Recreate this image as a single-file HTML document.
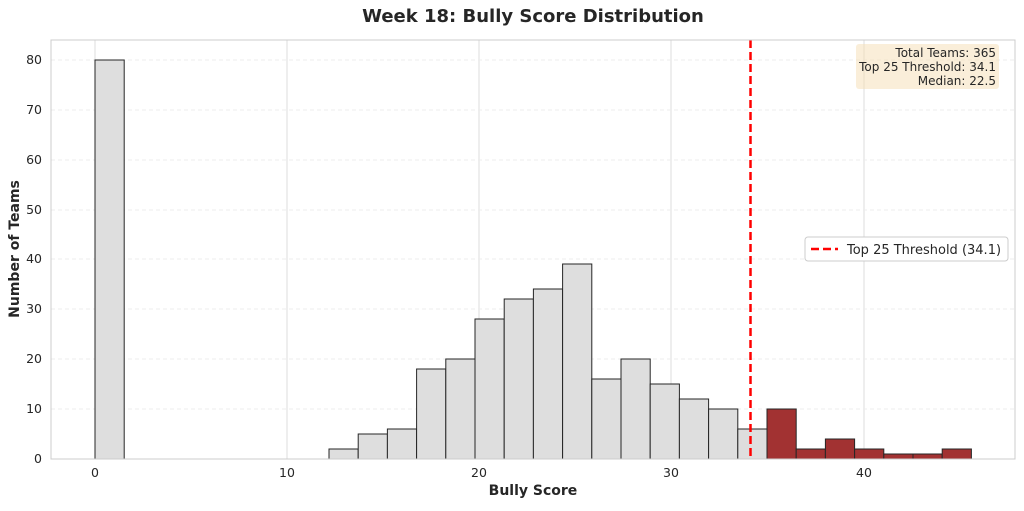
<!DOCTYPE html>
<html><head><meta charset="utf-8"><style>
body{margin:0;background:#fff;}
svg text{font-family:"DejaVu Sans","Liberation Sans",sans-serif;fill:#262626;}
</style></head><body>
<svg width="1024" height="506" viewBox="0 0 1024 506" xmlns="http://www.w3.org/2000/svg">
<rect width="1024" height="506" fill="#fff"/>
<text x="533" y="22" font-size="18" font-weight="bold" text-anchor="middle">Week 18: Bully Score Distribution</text>
<g stroke="#dcdcdc" stroke-width="1">
<line x1="95" y1="40" x2="95" y2="459"/><line x1="287" y1="40" x2="287" y2="459"/><line x1="479" y1="40" x2="479" y2="459"/><line x1="671" y1="40" x2="671" y2="459"/><line x1="864" y1="40" x2="864" y2="459"/>
</g>
<g stroke="#ececec" stroke-width="1" stroke-dasharray="4,3">
<line x1="51" y1="409" x2="1015" y2="409"/><line x1="51" y1="359" x2="1015" y2="359"/><line x1="51" y1="309" x2="1015" y2="309"/><line x1="51" y1="259" x2="1015" y2="259"/><line x1="51" y1="210" x2="1015" y2="210"/><line x1="51" y1="160" x2="1015" y2="160"/><line x1="51" y1="110" x2="1015" y2="110"/><line x1="51" y1="60" x2="1015" y2="60"/>
</g>
<g stroke="#262626" stroke-width="1" fill="#dedede">
<rect x="95" y="60" width="29.2" height="399"/>
<rect x="329" y="449" width="29.2" height="10"/>
<rect x="358.2" y="434" width="29.2" height="25"/>
<rect x="387.4" y="429" width="29.2" height="30"/>
<rect x="416.6" y="369" width="29.2" height="90"/>
<rect x="445.8" y="359" width="29.2" height="100"/>
<rect x="475" y="319" width="29.2" height="140"/>
<rect x="504.2" y="299" width="29.2" height="160"/>
<rect x="533.4" y="289" width="29.2" height="170"/>
<rect x="562.6" y="264" width="29.2" height="195"/>
<rect x="591.8" y="379" width="29.2" height="80"/>
<rect x="621" y="359" width="29.2" height="100"/>
<rect x="650.2" y="384" width="29.2" height="75"/>
<rect x="679.4" y="399" width="29.2" height="60"/>
<rect x="708.6" y="409" width="29.2" height="50"/>
<rect x="737.8" y="429" width="29.2" height="30"/>
</g>
<g stroke="#262626" stroke-width="1" fill="#a23232">
<rect x="767" y="409" width="29.2" height="50"/>
<rect x="796.2" y="449" width="29.2" height="10"/>
<rect x="825.4" y="439" width="29.2" height="20"/>
<rect x="854.6" y="449" width="29.2" height="10"/>
<rect x="883.8" y="454" width="29.2" height="5"/>
<rect x="913" y="454" width="29.2" height="5"/>
<rect x="942.2" y="449" width="29.2" height="10"/>
</g>
<line x1="750.5" y1="40" x2="750.5" y2="459" stroke="#ff0000" stroke-width="2.5" stroke-dasharray="8,4"/>
<rect x="51" y="40" width="964" height="419" fill="none" stroke="#cccccc" stroke-width="1"/>
<g font-size="12.5" text-anchor="middle">
<text x="95" y="477">0</text><text x="287" y="477">10</text><text x="479" y="477">20</text><text x="671" y="477">30</text><text x="864" y="477">40</text>
</g>
<g font-size="12.5" text-anchor="end">
<text x="42" y="463">0</text><text x="42" y="413">10</text><text x="42" y="363">20</text><text x="42" y="313">30</text><text x="42" y="263">40</text><text x="42" y="214">50</text><text x="42" y="164">60</text><text x="42" y="114">70</text><text x="42" y="64">80</text>
</g>
<text x="533" y="495" font-size="14" font-weight="bold" text-anchor="middle">Bully Score</text>
<text transform="translate(19,249) rotate(-90)" font-size="14" font-weight="bold" text-anchor="middle">Number of Teams</text>
<rect x="856" y="44" width="143" height="45" rx="3" fill="#f5deb3" opacity="0.5"/>
<g font-size="12" text-anchor="end">
<text x="996" y="57">Total Teams: 365</text>
<text x="996" y="71">Top 25 Threshold: 34.1</text>
<text x="996" y="85">Median: 22.5</text>
</g>
<rect x="805" y="237" width="203" height="24" rx="3" fill="#fff" stroke="#cccccc"/>
<line x1="811" y1="249" x2="838" y2="249" stroke="#ff0000" stroke-width="2.5" stroke-dasharray="8,4"/>
<text x="847" y="254" font-size="13">Top 25 Threshold (34.1)</text>
</svg>
</body></html>
